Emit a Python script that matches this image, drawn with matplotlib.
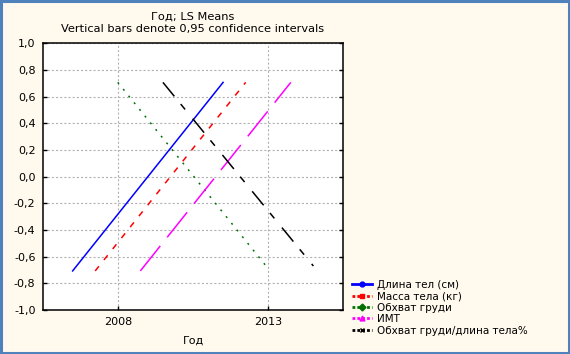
import matplotlib
matplotlib.use("Agg")
import matplotlib.pyplot as plt
from matplotlib.lines import Line2D
from matplotlib.patches import Rectangle
import numpy as np

# LS means per year (standardised)
years = ["2008", "2013"]
series_names = ["Длина тел (см)", "Масса тела (кг)", "Обхват груди", "ИМТ",
                "Обхват груди/длина тела%"]
vals_2008 = [-0.707, -0.707, 0.707, -0.707, 0.707]
vals_2013 = [0.707, 0.707, -0.69, 0.707, -0.67]
offsets = [-0.3, -0.15, 0.0, 0.15, 0.3]
y_ticks = [-1.0, -0.8, -0.6, -0.4, -0.2, 0.0, 0.2, 0.4, 0.6, 0.8, 1.0]

colors = ["#0000ff", "#ff0000", "#007000", "#ff00ff", "#000000"]
dashes = [None, (0, (4.3, 5.8)), (0, (1.4, 4.8)), (0, (23, 8)),
          (0, (13, 7.2, 5, 8.6))]
markers = ["o", "s", "D", "^", "x"]

plt.rcParams["lines.scale_dashes"] = False
plt.rcParams["font.family"] = ["DejaVu Sans"]

BG = "#fff9ee"
fig = plt.figure(figsize=(5.7, 3.54), dpi=100, facecolor=BG)
ax = fig.add_axes([0.0746, 0.1243, 0.528, 0.7534])
ax.set_facecolor("white")

x = np.arange(len(years))
for name, a, b, off, c, d in zip(series_names, vals_2008, vals_2013, offsets, colors, dashes):
    ls = "-" if d is None else d
    ax.plot(x + off, [a, b], color=c, lw=1.1, linestyle=ls)

ax.set_xlim(-0.5, 1.5)
ax.set_ylim(-1, 1)
ax.set_xticks(x)
ax.set_xticklabels(years, fontsize=8)
ax.set_yticks(y_ticks)
ax.set_yticklabels([f"{v:.1f}".replace(".", ",") for v in y_ticks], fontsize=8)
ax.tick_params(direction="in", length=3, width=1, right=True, top=False, pad=5)
ax.grid(True, color="#b0b0b0", linestyle=(0, (1.5, 1.5)), lw=0.8)
for s in ax.spines.values():
    s.set_color("black")
    s.set_linewidth(1.1)
ax.set_xlabel("Год", fontsize=8, labelpad=6)
ax.set_title("Год; LS Means\nVertical bars denote 0,95 confidence intervals",
             fontsize=8.2, pad=8, linespacing=1.3)

handles = []
for c, d, m in zip(colors, dashes, markers):
    handles.append(Line2D([], [], color=c, lw=2, linestyle="-" if d is None else (0, (2, 1.5)),
                          marker=m, markersize=3.5))
fig.legend(handles, series_names, loc="upper left", bbox_to_anchor=(0.618, 0.21),
           frameon=False, fontsize=7.5, handlelength=1.85, handletextpad=0.5,
           labelspacing=0.14, borderaxespad=0, borderpad=0)

fig.add_artist(Rectangle((0.002, 0.003), 0.996, 0.994, transform=fig.transFigure,
                         fill=False, edgecolor="#4f81bd", lw=2.2))

fig.savefig("out.png", dpi=100, facecolor=BG)
